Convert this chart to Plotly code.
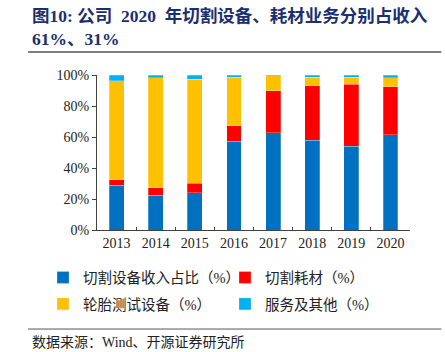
import plotly.graph_objects as go

years = ["2013", "2014", "2015", "2016", "2017", "2018", "2019", "2020"]
cut_equip = [28.8, 22.4, 24.1, 57.2, 62.8, 57.8, 54.0, 61.5]
cut_consum = [3.5, 4.9, 6.2, 9.9, 26.9, 35.3, 40.0, 31.0]
tire_test = [64.0, 71.0, 67.1, 31.6, 9.9, 5.4, 4.7, 5.8]
service = [3.7, 1.7, 2.6, 1.3, 0.4, 1.5, 1.3, 1.7]

names = ["切割设备收入占比（%）", "切割耗材（%）", "轮胎测试设备（%）", "服务及其他（%）"]
colors = ["#0070C0", "#FF0000", "#FFC000", "#00B0F0"]
series = [cut_equip, cut_consum, tire_test, service]
legend_ids = ["legend", "legend", "legend2", "legend2"]

serif = "Liberation Serif, Noto Sans CJK SC, serif"
cjk = "Liberation Serif, Noto Sans CJK SC, sans-serif"

fig = go.Figure()
for n, c, s, lg in zip(names, colors, series, legend_ids):
    fig.add_trace(go.Bar(x=years, y=s, name=n, legend=lg,
                         marker=dict(color=c, line=dict(color="rgba(255,255,255,0.5)", width=0.5))))

leg_common = dict(
    orientation="h", xanchor="left", yanchor="top",
    entrywidth=137, entrywidthmode="pixels",
    font=dict(family=cjk, size=14.5, color="#222"),
    itemwidth=30, bgcolor="rgba(0,0,0,0)", traceorder="normal",
)

fig.update_layout(
    barmode="stack",
    bargap=0.62,
    width=445, height=352,
    margin=dict(l=97, r=35, t=75, b=122, autoexpand=False),
    paper_bgcolor="white", plot_bgcolor="white",
    showlegend=True,
    legend=dict(x=-0.1725, y=-0.203, **leg_common),
    legend2=dict(x=-0.1725, y=-0.374, **leg_common),
    xaxis=dict(
        type="category", range=[-0.5, 7.5],
        showline=True, linecolor="#404040", linewidth=1,
        ticks="inside", ticklen=3, tickcolor="#404040", tickson="boundaries",
        tickfont=dict(family=serif, size=14, color="#222"),
        showgrid=False,
    ),
    yaxis=dict(
        range=[0, 100], tickvals=[0, 20, 40, 60, 80, 100],
        ticktext=["0%", "20%", "40%", "60%", "80%", "100%"],
        showline=True, linecolor="#404040", linewidth=1,
        ticks="outside", ticklen=4, tickcolor="#404040",
        tickfont=dict(family=serif, size=14, color="#222"),
        showgrid=False, zeroline=False,
    ),
)

nb = "\u00a0"
fig.add_annotation(
    text=f"<b>图10:{nb}公司{nb}{nb}2020{nb}{nb}年切割设备、耗材业务分别占收入<br>61%、31%</b>",
    xref="paper", yref="paper", x=-0.214, y=1.46, xanchor="left", yanchor="top",
    align="left", showarrow=False,
    font=dict(family=cjk, size=17.5, color="#1A2F6E"),
)
fig.add_annotation(
    text="数据来源：Wind、开源证券研究所",
    xref="paper", yref="paper", x=-0.214, y=-0.662, xanchor="left", yanchor="top",
    align="left", showarrow=False,
    font=dict(family=cjk, size=14, color="#222"),
)
fig.add_shape(type="line", xref="paper", yref="paper", x0=-0.22, x1=1.1, y0=1.148, y1=1.148,
              line=dict(color="#555", width=1.5))
fig.add_shape(type="line", xref="paper", yref="paper", x0=-0.22, x1=1.1, y0=-0.639, y1=-0.639,
              line=dict(color="#555", width=1))

fig.write_html("out.html")
